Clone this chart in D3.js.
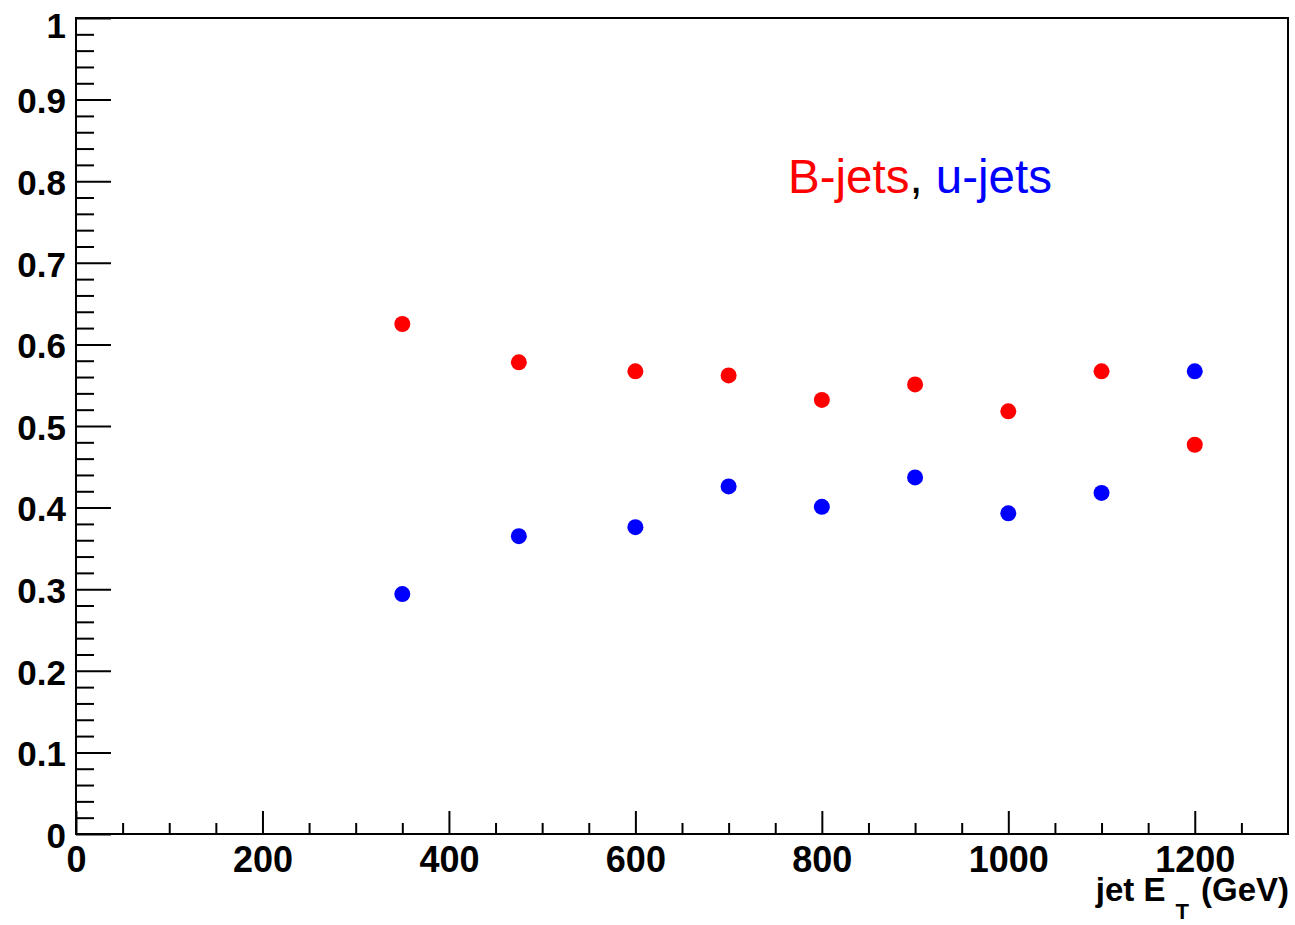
<!DOCTYPE html>
<html>
<head>
<meta charset="utf-8">
<script src="https://cdn.jsdelivr.net/npm/d3@7"></script>
<style>
  html, body { margin: 0; padding: 0; background: #fff; }
  svg { display: block; }
  text { font-family: "Liberation Sans", Arial, Helvetica, sans-serif; }
</style>
</head>
<body>
<svg id="chart" width="1295" height="925"></svg>
<script>
// Jet energy bins (GeV)
const jetET = [350, 475, 600, 700, 800, 900, 1000, 1100, 1200];
// Fraction for B-jets and u-jets in each bin
const bJets = [0.625, 0.578, 0.567, 0.562, 0.532, 0.551, 0.518, 0.567, 0.477];
const uJets = [0.294, 0.365, 0.376, 0.426, 0.401, 0.437, 0.393, 0.418, 0.567];
// Axis ticks
const xMajor = [0, 200, 400, 600, 800, 1000, 1200];
const xMinor = d3.range(0, 1300, 50).filter(v => v % 200 !== 0);
const yMajor = [0, 0.1, 0.2, 0.3, 0.4, 0.5, 0.6, 0.7, 0.8, 0.9, 1];
const yMinor = d3.range(0, 50).map(i => i * 0.02).filter((v, i) => i % 5 !== 0);

const svg = d3.select("#chart");
const x = d3.scaleLinear().domain([0, 1300]).range([76, 1288]);
const y = d3.scaleLinear().domain([0, 1]).range([834, 18]);

svg.append("rect").attr("width", 1295).attr("height", 925).attr("fill", "#fff");

// Frame
svg.append("rect")
  .attr("x", x(0)).attr("y", y(1))
  .attr("width", x(1300) - x(0)).attr("height", y(0) - y(1))
  .attr("fill", "none").attr("stroke", "#000").attr("stroke-width", 2);

function styleAxis(g) {
  g.select(".domain").remove();
  g.selectAll(".tick line").attr("stroke", "#000").attr("stroke-width", 2);
}

// X axis
svg.append("g")
  .attr("transform", `translate(0,${y(0)})`)
  .call(d3.axisBottom(x).tickValues(xMinor).tickSize(-11).tickFormat(""))
  .call(styleAxis);
const gx = svg.append("g")
  .attr("transform", `translate(0,${y(0)})`)
  .call(d3.axisBottom(x).tickValues(xMajor).tickSize(-23).tickPadding(12).tickFormat(d3.format("d")))
  .call(styleAxis);
gx.selectAll(".tick text")
  .attr("fill", "#000").attr("font-size", 36).attr("font-weight", "bold")
  .attr("font-family", "Liberation Sans, Arial, sans-serif");

// Y axis
svg.append("g")
  .attr("transform", `translate(${x(0)},0)`)
  .call(d3.axisLeft(y).tickValues(yMinor).tickSize(-18).tickFormat(""))
  .call(styleAxis);
const gy = svg.append("g")
  .attr("transform", `translate(${x(0)},0)`)
  .call(d3.axisLeft(y).tickValues(yMajor).tickSize(-35).tickPadding(10)
    .tickFormat(d => d === 0 ? "0" : d === 1 ? "1" : d3.format(".1f")(d)))
  .call(styleAxis);
gy.selectAll(".tick text")
  .attr("fill", "#000").attr("font-size", 35).attr("font-weight", "bold")
  .attr("font-family", "Liberation Sans, Arial, sans-serif")
  .attr("dy", d => d === 1 ? "0.56em" : "0.38em");

// X axis title with subscript
const title = svg.append("text")
  .attr("x", 1289).attr("y", 901)
  .attr("text-anchor", "end")
  .attr("font-size", 33).attr("font-weight", "bold").attr("fill", "#000");
title.append("tspan").text("jet E");
title.append("tspan").attr("dx", 10).attr("dy", 18).style("font-size", "22px").text("T");
title.append("tspan").attr("dx", 12).attr("dy", -18).text("(GeV)");

// Data points
svg.append("g").selectAll("circle")
  .data(jetET.map((e, i) => ({ e, v: bJets[i] })))
  .join("circle")
  .attr("cx", d => x(d.e)).attr("cy", d => y(d.v)).attr("r", 8)
  .attr("fill", "#ff0000");
svg.append("g").selectAll("circle")
  .data(jetET.map((e, i) => ({ e, v: uJets[i] })))
  .join("circle")
  .attr("cx", d => x(d.e)).attr("cy", d => y(d.v)).attr("r", 8)
  .attr("fill", "#0000ff");

// Legend text
const legend = svg.append("text")
  .attr("x", 788).attr("y", 193)
  .attr("font-size", 47.5);
legend.append("tspan").attr("fill", "#ff0000").text("B-jets");
legend.append("tspan").attr("fill", "#000").text(", ");
legend.append("tspan").attr("fill", "#0000ff").text("u-jets");
</script>
</body>
</html>
